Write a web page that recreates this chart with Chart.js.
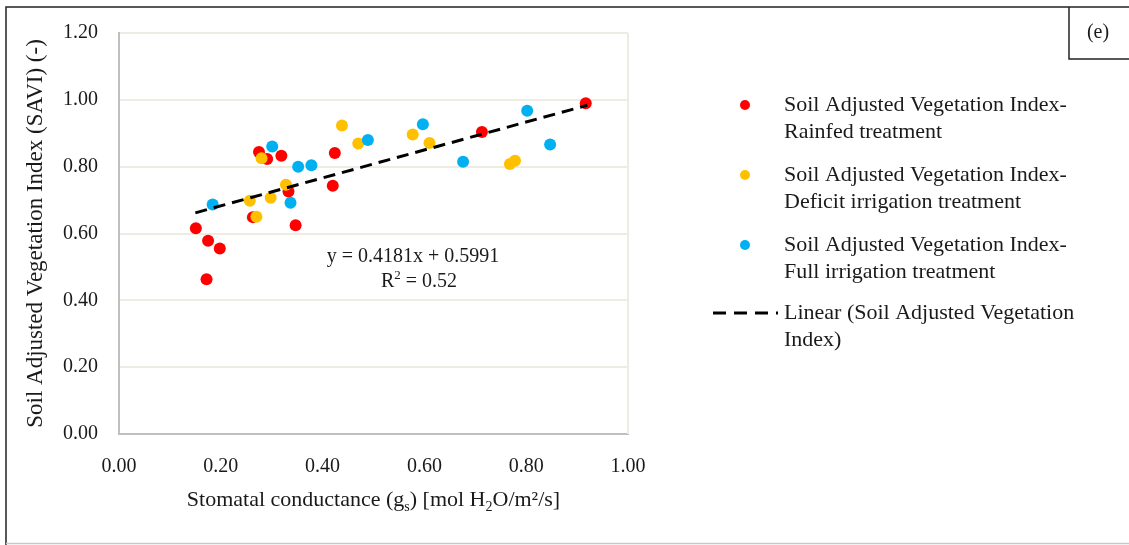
<!DOCTYPE html>
<html>
<head>
<meta charset="utf-8">
<script src="https://cdn.jsdelivr.net/npm/chart.js@4.4.1/dist/chart.umd.min.js"></script>
<style>
  html, body { margin: 0; padding: 0; background: #fff; }
  canvas { display: block; }
</style>
</head>
<body>
<canvas id="saviChart" width="1129" height="545"></canvas>
<script>
// stomatal conductance (gs) vs SAVI, one pair of arrays per treatment
const rainfedGs   = [0.151, 0.175, 0.198, 0.172, 0.275, 0.291, 0.319, 0.333, 0.347, 0.263, 0.424, 0.420, 0.713, 0.917];
const rainfedSavi = [0.616, 0.578, 0.555, 0.463, 0.844, 0.823, 0.833, 0.726, 0.625, 0.649, 0.841, 0.743, 0.904, 0.990];

const deficitGs   = [0.280, 0.257, 0.270, 0.298, 0.328, 0.438, 0.470, 0.577, 0.610, 0.768, 0.778];
const deficitSavi = [0.825, 0.698, 0.650, 0.707, 0.746, 0.923, 0.869, 0.896, 0.871, 0.808, 0.818];

const fullGs   = [0.184, 0.301, 0.352, 0.378, 0.337, 0.489, 0.597, 0.676, 0.802, 0.847];
const fullSavi = [0.687, 0.860, 0.800, 0.804, 0.692, 0.880, 0.927, 0.815, 0.967, 0.866];

// linear fit over all points
const trendSlope = 0.4181;
const trendIntercept = 0.5991;
const trendR2 = 0.52;
const trendRange = [0.15, 0.92];

const xTicks = [0, 0.2, 0.4, 0.6, 0.8, 1.0];
const yTicks = [0, 0.2, 0.4, 0.6, 0.8, 1.0, 1.2];

const legendLabels = [
  ["Soil Adjusted Vegetation Index-", "Rainfed treatment"],
  ["Soil Adjusted Vegetation Index-", "Deficit irrigation treatment"],
  ["Soil Adjusted Vegetation Index-", "Full irrigation treatment"],
  ["Linear (Soil Adjusted Vegetation", "Index)"],
];

const SERIF = '"Liberation Serif", "Times New Roman", serif';
const INK = "#1a1a1a";
const GRID = "#EDEBE2";
const AXIS = "#BFBFBF";

const toPoints = (xs, ys) => xs.map((x, i) => ({ x, y: ys[i] }));

const trendPoints = trendRange.map((x) => ({ x, y: trendSlope * x + trendIntercept }));

const fmt = (n, d) => n.toFixed(d);

// draws a run of [text, kind] pieces, kind = "sub" | "sup" | undefined
function drawRich(ctx, pieces, cx, cy, size) {
  const small = Math.round(size * 0.65);
  const widthOf = ([t, kind]) => {
    ctx.font = `${kind ? small : size}px ${SERIF}`;
    return ctx.measureText(t).width;
  };
  const total = pieces.reduce((s, p) => s + widthOf(p), 0);
  let x = cx - total / 2;
  ctx.textAlign = "left";
  ctx.textBaseline = "alphabetic";
  pieces.forEach((p) => {
    const [t, kind] = p;
    const w = widthOf(p);
    let y = cy + size * 0.33;
    if (kind === "sub") y += size * 0.2;
    if (kind === "sup") y -= size * 0.38;
    ctx.fillText(t, x, y);
    x += w;
  });
}

const decorations = {
  id: "decorations",
  beforeDraw(chart) {
    const { ctx, width, height } = chart;
    ctx.save();
    ctx.fillStyle = "#fff";
    ctx.fillRect(0, 0, width, height);
    ctx.restore();
  },
  beforeDatasetsDraw(chart) {
    const { ctx, chartArea } = chart;
    ctx.save();
    ctx.strokeStyle = GRID;
    ctx.lineWidth = 2;
    ctx.beginPath();
    ctx.moveTo(chartArea.right, chartArea.top);
    ctx.lineTo(chartArea.right, chartArea.bottom);
    ctx.stroke();
    ctx.restore();
  },
  afterDraw(chart) {
    const { ctx, chartArea, data } = chart;
    ctx.save();
    ctx.fillStyle = INK;

    // outer frame and panel tag
    ctx.strokeStyle = "#222";
    ctx.lineWidth = 1.5;
    ctx.beginPath();
    ctx.moveTo(6, 545);
    ctx.lineTo(6, 7);
    ctx.lineTo(1129, 7);
    ctx.moveTo(1069, 7);
    ctx.lineTo(1069, 59);
    ctx.lineTo(1129, 59);
    ctx.stroke();
    ctx.strokeStyle = "#C8C8C8";
    ctx.beginPath();
    ctx.moveTo(6, 543.5);
    ctx.lineTo(1129, 543.5);
    ctx.stroke();

    ctx.font = `20px ${SERIF}`;
    ctx.textAlign = "center";
    ctx.textBaseline = "middle";
    ctx.fillText("(e)", 1098, 33);

    // axis titles
    const midX = (chartArea.left + chartArea.right) / 2;
    const midY = (chartArea.top + chartArea.bottom) / 2;
    drawRich(ctx, [
      ["Stomatal conductance (g"], ["s", "sub"], [") [mol H"], ["2", "sub"], ["O/m\u00B2/s]"],
    ], midX, 499, 22);

    ctx.save();
    ctx.translate(36, midY);
    ctx.rotate(-Math.PI / 2);
    ctx.font = `23px ${SERIF}`;
    ctx.textAlign = "center";
    ctx.textBaseline = "middle";
    ctx.fillText("Soil Adjusted Vegetation Index (SAVI) (-)", 0, 0);
    ctx.restore();

    // fit equation
    ctx.font = `20px ${SERIF}`;
    ctx.textAlign = "center";
    ctx.textBaseline = "middle";
    ctx.fillText(`y = ${fmt(trendSlope, 4)}x + ${fmt(trendIntercept, 4)}`, 413, 257);
    drawRich(ctx, [["R"], ["2", "sup"], [` = ${fmt(trendR2, 2)}`]], 419, 280, 20);

    // legend
    const legendTop = [105, 175, 245, 313];
    ctx.font = `22px ${SERIF}`;
    ctx.textAlign = "left";
    ctx.textBaseline = "middle";
    legendLabels.forEach((lines, i) => {
      const ly = legendTop[i];
      const ds = data.datasets.find((d) => d.legendIndex === i);
      if (ds.type === "line") {
        ctx.save();
        ctx.strokeStyle = ds.borderColor;
        ctx.lineWidth = 3;
        ctx.setLineDash([13, 8]);
        ctx.beginPath();
        ctx.moveTo(713, ly);
        ctx.lineTo(778, ly);
        ctx.stroke();
        ctx.restore();
      } else {
        ctx.beginPath();
        ctx.fillStyle = ds.backgroundColor;
        ctx.arc(745, ly, 5, 0, Math.PI * 2);
        ctx.fill();
      }
      ctx.fillStyle = INK;
      lines.forEach((t, j) => ctx.fillText(t, 784, ly + j * 27));
    });

    ctx.restore();
  },
};

const scatterSet = (label, xs, ys, color, order, legendIndex) => ({
  type: "scatter",
  label,
  data: toPoints(xs, ys),
  backgroundColor: color,
  borderColor: color,
  pointRadius: 6,
  pointHoverRadius: 6,
  pointBorderWidth: 0,
  order,
  legendIndex,
});

new Chart(document.getElementById("saviChart"), {
  type: "scatter",
  data: {
    datasets: [
      {
        type: "line",
        label: "Linear (Soil Adjusted Vegetation Index)",
        data: trendPoints,
        borderColor: "#000",
        borderWidth: 3,
        borderDash: [12, 7],
        pointRadius: 0,
        fill: false,
        order: 0,
        legendIndex: 3,
      },
      scatterSet("Rainfed treatment", rainfedGs, rainfedSavi, "#FF0000", 3, 0),
      scatterSet("Deficit irrigation treatment", deficitGs, deficitSavi, "#FFC000", 2, 1),
      scatterSet("Full irrigation treatment", fullGs, fullSavi, "#00B0F0", 1, 2),
    ],
  },
  options: {
    responsive: false,
    animation: false,
    devicePixelRatio: 1,
    layout: { padding: { left: 0, top: 32, right: 501, bottom: 0 } },
    plugins: {
      legend: { display: false },
      tooltip: { enabled: false },
    },
    scales: {
      x: {
        type: "linear",
        min: xTicks[0],
        max: xTicks[xTicks.length - 1],
        afterFit: (scale) => { scale.height = 111; },
        afterBuildTicks: (scale) => { scale.ticks = xTicks.map((value) => ({ value })); },
        grid: { display: false, drawTicks: false },
        border: { display: true, color: AXIS, width: 2 },
        ticks: {
          padding: 21,
          color: INK,
          font: { family: SERIF, size: 20 },
          callback: (v) => fmt(v, 2),
        },
      },
      y: {
        type: "linear",
        min: yTicks[0],
        max: yTicks[yTicks.length - 1],
        afterFit: (scale) => { scale.width = 119; },
        afterBuildTicks: (scale) => { scale.ticks = yTicks.map((value) => ({ value })); },
        grid: {
          drawTicks: false,
          lineWidth: 2,
          color: (c) => (c.tick && c.tick.value === 0 ? "rgba(0,0,0,0)" : GRID),
        },
        border: { display: true, color: AXIS, width: 2 },
        ticks: {
          padding: 21,
          color: INK,
          font: { family: SERIF, size: 20 },
          callback: (v) => fmt(v, 2),
        },
      },
    },
  },
  plugins: [decorations],
});
</script>
</body>
</html>
